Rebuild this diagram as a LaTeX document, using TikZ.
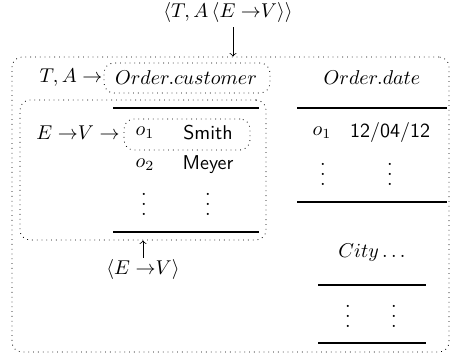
\documentclass[tikz,border=0pt]{standalone}
\usetikzlibrary{positioning,fit}
\newcommand{\coldots}{\vbox{\baselineskip5pt\lineskiplimit0pt\hbox{.}\hbox{.}\hbox{.}}}
\begin{document}
\begin{tikzpicture}[x=0.5pt, y=-0.5pt,
  dotbox/.style={draw, dotted, rounded corners=5pt, inner sep=0pt},
  tabrule/.style={line width=1.1pt},
  entry/.style={inner sep=1pt},
  val/.style={inner sep=1pt, font=\sffamily}]
  \useasboundingbox (0,0) rectangle (453,356);

  % Top: whole relation and its frame
  \node[inner sep=2pt] (top) at (228,13) {$\langle T, A\,\langle E\;{\rightarrow}V\rangle\rangle$};
  \node[dotbox, fit={(12,57) (449,352)}] (outer) {};
  \draw[->] ([xshift=2.5pt]top.south) -- ([xshift=2.5pt]top.south |- outer.north);

  % Left column: Order.customer
  \node[entry] (ta) at (71,78) {$T, A \rightarrow$};
  \node[dotbox, fit={(104,63) (270,93)}] (custbox) {};
  \node[entry] (cust) at (186,78) {$Order.customer$};
  \node[dotbox, fit={(20,100) (266,240)}] (inner) {};
  \draw[tabrule] (113,108) -- (259,108);
  \node[entry] (ev) at (78,133) {$E\;{\rightarrow}V \rightarrow$};
  \node[dotbox, fit={(124,119) (250,150)}] (rowbox) {};
  \node[entry] (o1) at (145,133) {$o_1$};
  \node[val] (smith) at (208,133) {Smith};
  \node[entry] (o2) at (145,165) {$o_2$};
  \node[val] (meyer) at (208,165) {Meyer};
  \node[entry] (dl1) at (144,204) {\coldots};
  \node[entry] (dl2) at (208,204) {\coldots};
  \draw[tabrule] (113,232) -- (259,232);
  \node[entry] (evtup) at (143,270) {$\langle E\;{\rightarrow}V\rangle$};
  \draw[->] (evtup.north) -- (evtup.north |- inner.south);

  % Right column: Order.date and City
  \node[entry] (date) at (372,78) {$Order.date$};
  \draw[tabrule] (297,108) -- (447,108);
  \node[entry] (o1d) at (322,133) {$o_1$};
  \node[val] (day) at (390,133) {12/04/12};
  \node[entry] (dr1) at (323,174) {\coldots};
  \node[entry] (dr2) at (390,174) {\coldots};
  \draw[tabrule] (297,202) -- (447,202);
  \node[entry] (city) at (372,253) {$City\ldots$};
  \draw[tabrule] (318,285) -- (426,285);
  \node[entry] (dc1) at (348,316) {\coldots};
  \node[entry] (dc2) at (394,316) {\coldots};
  \draw[tabrule] (318,343) -- (426,343);
\end{tikzpicture}
\end{document}
